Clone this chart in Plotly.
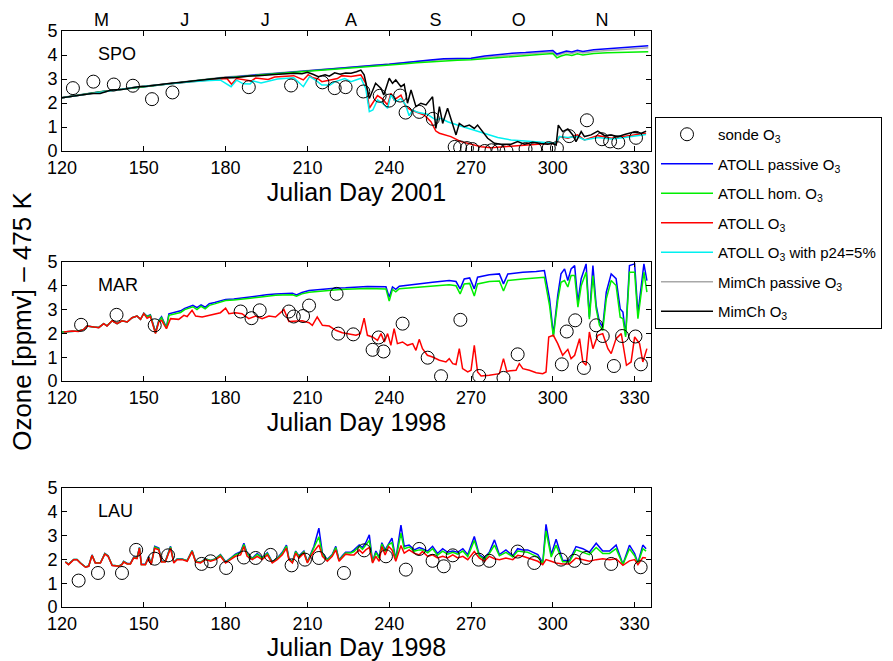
import plotly.graph_objects as go

FONT = "Liberation Sans, Arial, Helvetica, sans-serif"

# ---------------- axis / tick data ----------------
day_ticks = [120, 150, 180, 210, 240, 270, 300, 330]
ozone_ticks = [0, 1, 2, 3, 4, 5]
month_pos = [134.5, 165, 194.5, 226, 257, 287.5, 318]
month_lab = ["M", "J", "J", "A", "S", "O", "N"]
panel_names = ["SPO", "MAR", "LAU"]
panel_years = ["Julian Day 2001", "Julian Day 1998", "Julian Day 1998"]

# ---------------- SPO 2001 ----------------
spo_smooth_days = [120, 125, 130, 135, 140, 145, 150, 155, 160, 165, 170, 175, 180, 185, 190, 195, 200,
                   205, 210, 215, 220, 225, 230, 235, 240, 245, 250, 255, 260, 265, 270, 275, 280, 285,
                   290, 295, 300, 301.5, 303, 305, 307, 309, 311, 315, 320, 325, 330, 335]
spo_passive = [2.22, 2.32, 2.40, 2.48, 2.55, 2.62, 2.68, 2.75, 2.82, 2.88, 2.94, 3.00, 3.06, 3.11, 3.16,
               3.20, 3.25, 3.30, 3.34, 3.38, 3.42, 3.47, 3.52, 3.57, 3.61, 3.68, 3.74, 3.79, 3.84, 3.86,
               3.86, 3.96, 4.02, 4.07, 4.10, 4.14, 4.19, 4.04, 4.10, 4.17, 4.13, 4.20, 4.15, 4.22, 4.26,
               4.30, 4.35, 4.39]
spo_hom = [2.22, 2.32, 2.40, 2.48, 2.55, 2.62, 2.68, 2.75, 2.82, 2.88, 2.94, 3.00, 3.05, 3.10, 3.15,
           3.19, 3.24, 3.28, 3.32, 3.36, 3.40, 3.44, 3.49, 3.53, 3.57, 3.63, 3.68, 3.72, 3.76, 3.78,
           3.80, 3.85, 3.90, 3.95, 3.98, 4.02, 4.06, 3.88, 3.96, 4.02, 3.98, 4.05, 4.00, 4.06, 4.09,
           4.11, 4.13, 4.14]
spo_mim_passive = [2.23, 2.33, 2.41, 2.49, 2.56, 2.63, 2.70, 2.77, 2.84, 2.90, 2.96, 3.02, 3.08, 3.13,
                   3.18, 3.23, 3.27, 3.32, 3.36, 3.40, 3.44, 3.48, 3.53, 3.58, 3.62, 3.68, 3.73, 3.77,
                   3.81, 3.82, 3.84, 3.91, 3.96, 4.00, 4.04, 4.08, 4.12, 3.97, 4.04, 4.10, 4.06, 4.13,
                   4.08, 4.15, 4.19, 4.22, 4.26, 4.30]

spo_mim_days = [120, 123, 127, 131, 134, 138, 142, 145, 148, 151, 154, 157, 160, 163, 166.5, 170, 172.7,
                176, 180, 183, 186, 189, 192, 195, 198, 201, 205, 208, 210, 212, 214, 216.5, 218, 220,
                222, 224, 226, 228, 229.6, 230.8, 232.7, 234, 235, 237, 238, 240, 241.2, 242.4, 244.3,
                245.5, 246.7, 248, 249.8, 251.6, 253.5, 255.9, 257.1, 258.4, 259.6, 261.4, 262.6, 264.5,
                265.7, 267.5, 269.4, 271.2, 272.4, 274.3, 276.1, 278.6, 281, 284.7, 287.1, 289.6, 292.6,
                295.7, 298.1, 300, 301.2, 302, 303.6, 305.5, 307.3, 308.5, 310.4, 311.6, 314, 316.5, 319,
                321.4, 323.8, 326.3, 329.4, 332.5, 334.2]
spo_mim_o3 = [2.22, 2.26, 2.33, 2.40, 2.40, 2.54, 2.56, 2.62, 2.68, 2.70, 2.75, 2.77, 2.82, 2.85, 2.89,
              2.92, 2.96, 3.00, 3.06, 3.05, 3.10, 3.12, 3.14, 3.15, 3.19, 3.21, 3.24, 3.22, 3.28, 3.20,
              3.10, 3.18, 3.12, 3.26, 3.20, 3.25, 3.24, 3.30, 3.37, 3.17, 2.19, 2.54, 2.82, 2.61, 2.33,
              3.03, 2.82, 2.96, 2.68, 2.78, 1.99, 2.54, 1.85, 1.99, 1.92, 2.26, 0.94, 1.85, 1.15, 1.78,
              1.36, 0.67, 1.15, 1.01, 1.08, 0.94, 1.08, 0.81, 0.53, 0.32, 0.28, 0.28, 0.39, 0.28, 0.36,
              0.31, 0.28, 0.32, 0.25, 1.08, 0.81, 0.92, 0.67, 0.39, 0.81, 0.60, 0.67, 0.83, 0.64, 0.67,
              0.60, 0.69, 0.78, 0.74, 0.83]

spo_atoll_days = [120, 127, 134, 140, 148, 154, 160, 166.5, 172.7, 178, 180.5, 182.2, 184, 186, 189.5,
                  191, 195.6, 198, 205, 208.5, 210.3, 212, 214, 215.3, 218.6, 221, 222.6, 225, 226,
                  229.6, 231.4, 232.7, 234, 235.7, 237.5, 239.4, 240.6, 241.8, 244.3, 246, 248, 250.4,
                  252.8, 255.3, 257.1, 258.4, 260.2, 262.6, 266.3, 270, 273.7, 277.3, 281, 287, 294.4,
                  299.4, 301.2, 302.4, 305.5, 309, 311.6, 316.5, 321.4, 326.3, 331, 334.2]
spo_atoll_o3 = [2.22, 2.33, 2.42, 2.54, 2.68, 2.75, 2.82, 2.88, 2.95, 3.00, 3.02, 2.78, 3.02, 2.98, 2.92,
                3.04, 2.98, 3.08, 3.14, 2.96, 3.18, 3.05, 3.00, 2.89, 2.96, 3.02, 3.14, 3.12, 3.10,
                3.17, 2.82, 1.78, 1.99, 2.31, 2.17, 1.92, 2.40, 2.13, 2.33, 1.85, 1.71, 1.61, 1.50,
                1.22, 0.83, 0.74, 0.69, 0.60, 0.39, 0.28, 0.18, 0.14, 0.18, 0.22, 0.28, 0.32, 0.28,
                0.60, 0.53, 0.67, 0.46, 0.64, 0.53, 0.60, 0.67, 0.74]

spo_p24_days = [120, 127, 134, 140, 148, 154, 160, 166.5, 172.7, 178, 182, 184, 186.5, 189, 190, 193,
                199, 205, 208.5, 210.8, 213, 215.3, 218.3, 220, 223.7, 226, 229.6, 231.4, 232.7, 234,
                235.7, 237.5, 239.4, 240.6, 242.4, 244.3, 246, 247.3, 248.6, 250.4, 254, 257.1, 259,
                261.4, 265, 268.8, 272.4, 276, 279.8, 284.7, 289.6, 294.5, 299.4, 301.2, 302.4, 305.5,
                309, 311.6, 316.5, 321.4, 326.3, 331, 334.2]
spo_p24_o3 = [2.22, 2.33, 2.42, 2.54, 2.68, 2.75, 2.82, 2.87, 2.93, 2.96, 2.68, 2.95, 2.80, 2.79, 2.92,
              2.83, 3.00, 3.05, 2.68, 3.10, 2.95, 2.75, 2.75, 2.88, 3.02, 2.89, 3.03, 2.61, 1.64, 1.71,
              2.13, 1.99, 1.78, 2.33, 2.06, 2.19, 1.92, 1.47, 1.71, 1.61, 1.53, 1.29, 1.36, 1.22, 1.08,
              0.94, 0.83, 0.67, 0.56, 0.46, 0.42, 0.39, 0.36, 0.32, 0.60, 0.56, 0.60, 0.46, 0.56, 0.50,
              0.56, 0.64, 0.69]

spo_sonde_days = [124, 131.5, 139, 146, 153, 160.5, 188.5, 204, 215.5, 220, 224, 230.5, 236.5, 240, 244,
                  246, 251, 256, 264, 266, 268.5, 270.5, 275, 277.5, 280, 283, 290, 293.5, 298.5, 301.5,
                  306, 312.5, 318, 321, 324, 330.5]
spo_sonde = [2.62, 2.89, 2.77, 2.72, 2.16, 2.44, 2.66, 2.73, 2.86, 2.62, 2.66, 2.48, 2.30, 2.10, 2.31,
             1.60, 1.63, 1.34, 0.17, 0.15, 0.12, 0.08, 0.00, 0.03, 0.02, 0.00, 0.08, 0.08, 0.12, 0.12,
             0.62, 1.28, 0.49, 0.40, 0.36, 0.55]

# ---------------- MAR 1998 ----------------
mar_model_days = [120, 123.7, 126, 128, 129.2, 131.6, 133.5, 135.3, 136.5, 138.4, 140.2, 142, 143.9, 145.7,
                  147.5, 148.8, 150, 151.2, 152.4, 154.3, 155.5, 156.5, 158.3, 159.2, 161.6, 163.5, 165,
                  166.5, 168, 169.5, 171, 172.5, 174, 176, 178, 180, 183, 186, 189, 192.2, 195, 198.3,
                  201, 204.5, 206, 208, 210.6, 214, 218, 221, 224, 227, 232, 238.8, 240, 241.2, 242.4,
                  243.7, 249.8, 255.9, 262, 264.5, 266, 267.5, 269.5, 271.2, 272.4, 276.7, 280.4, 281.9,
                  283.5, 289, 293.9, 296.9, 298.8, 300.2, 301.8, 303, 304.3, 305.5, 306.7, 308, 309.2,
                  310.4, 312.2, 313.4, 314.7, 315.9, 317.1, 318.3, 319.6, 321.4, 323.2, 324.7, 325.7,
                  326.7, 328.1, 330, 331.2, 332.4, 333.4, 334.5]
mar_passive = [2.06, 2.10, 2.10, 2.17, 2.31, 2.27, 2.25, 2.41, 2.32, 2.53, 2.41, 2.53, 2.48, 2.66, 2.73,
               2.59, 2.85, 2.72, 2.78, 2.05, 2.55, 2.70, 2.25, 2.82, 2.90, 2.95, 3.05, 3.12, 3.18, 3.08,
               3.20, 3.10, 3.25, 3.30, 3.35, 3.43, 3.45, 3.50, 3.53, 3.58, 3.62, 3.66, 3.67, 3.69, 3.62,
               3.72, 3.80, 3.84, 3.87, 3.91, 3.92, 3.94, 3.97, 3.96, 3.52, 3.95, 3.85, 3.98, 4.08, 4.15,
               4.22, 4.18, 3.87, 4.29, 4.33, 3.87, 4.36, 4.46, 4.50, 4.08, 4.50, 4.57, 4.60, 4.64, 3.45,
               1.95, 3.60, 4.50, 4.71, 4.22, 4.71, 4.85, 3.30, 4.30, 4.92, 2.68, 4.85, 3.17, 2.48, 2.27,
               3.73, 4.50, 4.30, 3.03, 2.90, 1.92, 4.85, 4.92, 2.83, 3.87, 4.92, 4.22]
mar_hom = [2.06, 2.10, 2.10, 2.17, 2.31, 2.27, 2.25, 2.41, 2.32, 2.53, 2.41, 2.53, 2.48, 2.66, 2.73,
           2.59, 2.84, 2.70, 2.76, 2.02, 2.52, 2.66, 2.22, 2.76, 2.84, 2.88, 3.00, 3.06, 3.12, 3.00,
           3.14, 3.03, 3.18, 3.24, 3.30, 3.38, 3.40, 3.45, 3.48, 3.52, 3.56, 3.60, 3.61, 3.62, 3.56,
           3.66, 3.73, 3.77, 3.80, 3.83, 3.85, 3.86, 3.89, 3.87, 3.36, 3.85, 3.75, 3.88, 3.94, 3.98,
           4.04, 4.00, 3.66, 4.08, 4.10, 3.57, 4.08, 4.18, 4.20, 3.78, 4.22, 4.29, 4.33, 4.36, 3.17,
           1.85, 3.38, 4.15, 4.22, 3.95, 4.43, 4.43, 3.10, 4.00, 4.57, 2.60, 4.43, 3.03, 2.34, 2.13,
           3.45, 4.22, 4.01, 2.68, 2.62, 1.85, 4.57, 4.57, 2.62, 3.59, 4.57, 3.73]

mar_o3_days = [120.6, 123.7, 126, 128, 129.2, 131.6, 133.5, 135.3, 136.5, 138.4, 140.2, 142, 143.9, 145.7,
               147.5, 148.8, 150, 151.2, 152.4, 154.3, 155.5, 156.5, 158.3, 159.8, 161.6, 162.8, 164.7,
               165.9, 167.7, 169, 171.4, 173.9, 175.7, 178.1, 180, 181.2, 183.6, 186, 188.5, 191, 193.4,
               195.9, 198.3, 201.4, 203.2, 205.7, 208.1, 210.6, 211.8, 213.6, 215.5, 218, 220.4, 222.8,
               225.3, 227.8, 229.4, 230.8, 232, 233.9, 235.7, 237, 238.2, 239.4, 240.6, 241.8, 243,
               244.9, 246.7, 248.6, 249.8, 251, 252.2, 254, 255.9, 258.4, 260.8, 262, 263.3, 264.5,
               265.7, 266.9, 268.8, 270, 271.2, 272.4, 273.7, 276.7, 280.4, 281.9, 283.1, 286.5, 287.7,
               289, 291.4, 293.9, 296.3, 297.5, 298.5, 300.2, 301.8, 303.6, 305.5, 306.7, 308, 309.8,
               311, 312.2, 313.4, 314.7, 316.5, 318.3, 320.2, 321.4, 323.2, 325.1, 327, 328.7, 330,
               331.8, 333, 334.5]
mar_o3 = [2.06, 2.10, 2.08, 2.17, 2.31, 2.27, 2.24, 2.41, 2.31, 2.53, 2.41, 2.53, 2.48, 2.66, 2.73, 2.59,
          2.83, 2.64, 2.71, 1.99, 2.48, 2.55, 2.20, 2.62, 2.62, 2.59, 2.76, 2.71, 2.97, 2.73, 2.69, 2.76,
          2.79, 2.87, 3.06, 2.83, 2.87, 2.83, 2.62, 2.73, 2.62, 2.73, 2.69, 3.00, 2.50, 2.50, 2.53, 2.45,
          2.34, 2.69, 2.34, 2.31, 2.13, 2.03, 1.99, 1.92, 1.99, 2.64, 1.92, 1.85, 1.71, 1.99, 1.64, 1.99,
          1.50, 2.20, 1.57, 1.64, 1.50, 1.57, 1.29, 1.75, 1.36, 1.08, 1.01, 0.87, 0.80, 0.94, 0.73, 0.69,
          1.36, 0.52, 0.38, 0.45, 1.50, 0.38, 0.21, 0.24, 0.31, 0.94, 0.41, 0.45, 0.73, 0.52, 0.45, 0.35,
          0.31, 0.38, 1.85, 1.92, 1.57, 1.08, 1.33, 0.94, 1.08, 1.78, 0.80, 0.66, 2.06, 1.36, 1.92, 1.99,
          1.36, 1.15, 1.78, 1.99, 0.66, 0.80, 1.85, 1.57, 0.80, 1.36]

mar_sonde_days = [127, 140, 154, 185.5, 189.5, 192.5, 203.2, 205, 208.4, 210.6, 220.7, 221.3, 226.8,
                  233.9, 236.1, 237.9, 244.9, 254.1, 259, 266.1, 273, 281.9, 287.1, 303.3, 305.1, 308.2,
                  311.4, 315.9, 318.3, 322.4, 325.4, 330.3, 332.3]
mar_sonde = [2.36, 2.78, 2.34, 2.92, 2.64, 2.97, 2.92, 2.71, 2.73, 3.17, 3.66, 1.99, 1.96, 1.31, 1.83,
             1.24, 2.41, 0.98, 0.20, 2.57, 0.21, 0.13, 1.12, 0.70, 2.08, 2.55, 0.55, 2.34, 1.89, 0.63,
             1.89, 1.87, 0.70]

# ---------------- LAU 1998 ----------------
lau_days = [121.2, 122.4, 124.3, 125.5, 126.7, 128.6, 129.8, 131, 132.2, 134.1, 135.7, 136.9, 138.4,
            140.8, 142, 142.6, 143.9, 145.1, 146.3, 147.5, 148.4, 149.1, 150.6, 151.8, 152.7, 154,
            155.5, 156.5, 157.9, 159.8, 161, 162.2, 164.1, 165.9, 167.7, 169, 170.8, 172.6, 174.5,
            176.3, 178.1, 180, 181.8, 183.6, 185.5, 186.7, 187.9, 189.8, 191.6, 193.4, 195.3, 197.1,
            198.9, 200.8, 202.3, 203.2, 204.5, 205.7, 206.9, 208.7, 210, 211.2, 212.4, 214.2, 215.5,
            217.3, 219.1, 220.4, 221.6, 222.8, 224, 225.9, 227.1, 229, 230.2, 231.4, 232.7, 233.9,
            235.1, 236.3, 237.3, 238.5, 239.8, 241, 242.4, 244.3, 245.5, 247.3, 249.2, 251, 252.2,
            254.1, 255.9, 257.7, 259.6, 261.4, 263.3, 265.1, 267, 268.8, 271.2, 273, 274.9, 276.7,
            278.6, 280.4, 282.8, 285.3, 287.1, 289, 290.8, 292.6, 294.5, 296.3, 297.5, 299.4, 301.2,
            303.6, 306.1, 308.5, 311, 313.4, 315.9, 318.3, 320.8, 323.2, 325.7, 328.1, 330, 331.2,
            333, 334.2]
lau_o3 = [1.89, 1.78, 1.99, 1.99, 1.85, 1.67, 1.71, 2.17, 1.85, 1.85,
          2.22, 2.13, 1.74, 1.71, 1.78, 1.89, 1.81, 1.81, 2.06, 2.03,
          2.47, 1.78, 1.78, 2.08, 1.78, 2.47, 2.40, 1.89, 1.89, 2.47,
          1.85, 1.99, 1.99, 1.92, 2.33, 1.89, 1.85, 1.99, 1.92, 1.99,
          2.13, 1.85, 1.99, 2.13, 2.19, 2.54, 2.13, 1.99, 2.13, 1.99,
          2.19, 1.85, 1.99, 2.19, 2.47, 1.99, 1.85, 2.26, 2.06, 2.26,
          1.85, 2.13, 2.33, 2.61, 2.13, 1.92, 2.13, 2.40, 1.92, 2.06,
          2.22, 2.19, 2.19, 2.40, 2.26, 2.40, 2.50, 1.85, 2.13, 1.92,
          2.54, 2.19, 2.54, 2.40, 1.92, 2.58, 2.26, 2.40, 2.26, 2.19,
          2.33, 2.13, 2.19, 2.06, 2.13, 2.06, 2.19, 2.06, 2.13, 1.99,
          2.33, 2.06, 1.92, 2.13, 2.03, 1.99, 2.06, 1.99, 2.17, 2.13,
          2.06, 1.99, 1.92, 1.78, 1.99, 1.92, 1.85, 1.81, 1.81, 2.06,
          1.99, 1.92, 1.99, 2.03, 1.99, 2.03, 1.75, 1.94, 1.99, 1.78,
          2.08, 2.06]
lau_passive = [1.90, 1.80, 2.00, 2.00, 1.86, 1.68, 1.72, 2.19, 1.86, 1.86,
               2.25, 2.15, 1.75, 1.72, 1.80, 1.92, 1.83, 1.83, 2.10, 2.06,
               2.50, 1.80, 1.80, 2.12, 1.80, 2.55, 2.48, 1.92, 1.92, 2.55,
               1.88, 2.02, 2.02, 1.95, 2.37, 1.92, 1.88, 2.02, 1.96, 2.03,
               2.20, 1.90, 2.05, 2.22, 2.32, 2.68, 2.25, 2.05, 2.25, 2.08,
               2.28, 1.90, 2.05, 2.30, 2.60, 2.05, 1.90, 2.35, 2.15, 2.35,
               1.90, 2.22, 2.55, 3.31, 2.25, 2.00, 2.20, 2.55, 1.98, 2.15,
               2.30, 2.30, 2.40, 2.61, 2.50, 2.70, 3.03, 1.90, 2.35, 2.10,
               2.70, 2.40, 2.65, 2.89, 2.00, 3.44, 2.55, 2.60, 2.40, 2.50,
               2.45, 2.35, 2.55, 2.25, 2.45, 2.30, 2.35, 2.30, 2.45, 2.20,
               2.96, 2.20, 2.05, 2.30, 2.82, 2.20, 2.40, 2.15, 2.45, 2.40,
               2.40, 2.30, 2.20, 1.85, 3.47, 2.20, 2.85, 1.95, 1.95, 2.54,
               2.45, 2.30, 2.68, 2.35, 2.35, 2.60, 1.80, 2.60, 2.25, 1.85,
               2.60, 2.45]
lau_hom = [1.90, 1.79, 2.00, 2.00, 1.86, 1.68, 1.72, 2.18, 1.86, 1.86,
           2.24, 2.14, 1.75, 1.72, 1.79, 1.91, 1.82, 1.82, 2.08, 2.05,
           2.49, 1.79, 1.79, 2.10, 1.79, 2.52, 2.45, 1.91, 1.91, 2.52,
           1.87, 2.01, 2.01, 1.94, 2.36, 1.91, 1.87, 2.01, 1.95, 2.02,
           2.18, 1.88, 2.03, 2.19, 2.28, 2.63, 2.21, 2.03, 2.21, 2.05,
           2.25, 1.88, 2.03, 2.26, 2.56, 2.03, 1.88, 2.32, 2.12, 2.32,
           1.88, 2.19, 2.49, 2.95, 2.21, 1.97, 2.18, 2.50, 1.96, 2.12,
           2.27, 2.27, 2.33, 2.55, 2.42, 2.60, 2.80, 1.88, 2.28, 2.05,
           2.65, 2.33, 2.62, 2.70, 1.98, 3.10, 2.45, 2.52, 2.35, 2.40,
           2.40, 2.28, 2.45, 2.18, 2.35, 2.22, 2.30, 2.22, 2.35, 2.12,
           2.80, 2.15, 2.00, 2.25, 2.60, 2.15, 2.30, 2.10, 2.35, 2.32,
           2.30, 2.20, 2.10, 1.82, 3.20, 2.10, 2.60, 1.90, 1.90, 2.40,
           2.30, 2.20, 2.50, 2.25, 2.25, 2.45, 1.78, 2.45, 2.15, 1.82,
           2.45, 2.35]
lau_sonde_days = [126.1, 133.2, 142, 147.2, 154, 158.9, 171.2, 174.5, 180.2, 186.7, 191, 196.5, 204.2,
                  209.1, 214.2, 223.4, 230.8, 238.8, 246.1, 251, 255.9, 260, 263.3, 272.8, 276.7, 287.1,
                  293.2, 303, 307.9, 312.2, 321.4, 332.2]
lau_sonde = [1.11, 1.43, 1.43, 2.40, 2.03, 2.17, 1.81, 1.92, 1.64, 2.08, 2.06, 2.19, 1.75, 1.99, 2.06,
             1.43, 2.38, 2.13, 1.57, 2.44, 1.94, 1.71, 2.17, 1.99, 1.94, 2.33, 1.85, 1.99, 1.94, 2.06,
             1.81, 1.67]

# ---------------- series styling ----------------
C_PASSIVE = "#0000ff"
C_HOM = "#00ee00"
C_O3 = "#ff0000"
C_P24 = "#00f0f0"
C_MIMP = "#a8a8a8"
C_MIM = "#000000"

NAMES = {
    "sonde": "sonde O<sub>3</sub>",
    "passive": "ATOLL passive O<sub>3</sub>",
    "hom": "ATOLL hom. O<sub>3</sub>",
    "o3": "ATOLL O<sub>3</sub>",
    "p24": "ATOLL O<sub>3</sub> with p24=5%",
    "mimp": "MimCh passive O<sub>3</sub>",
    "mim": "MimCh O<sub>3</sub>",
}
RANK = {"sonde": 1, "passive": 2, "hom": 3, "o3": 4, "p24": 5, "mimp": 6, "mim": 7}

fig = go.Figure()


def add_line(x, y, key, color, xa, ya, show):
    fig.add_trace(go.Scatter(
        x=x, y=y, mode="lines", line=dict(color=color, width=1.5),
        name=NAMES[key], legendgroup=key, legendrank=RANK[key], showlegend=show,
        xaxis=xa, yaxis=ya, hoverinfo="skip"))


def add_sonde(x, y, xa, ya, show):
    fig.add_trace(go.Scatter(
        x=x, y=y, mode="markers",
        marker=dict(symbol="circle-open", size=13, color="black", line=dict(width=1, color="black")),
        name=NAMES["sonde"], legendgroup="sonde", legendrank=RANK["sonde"], showlegend=show,
        xaxis=xa, yaxis=ya, hoverinfo="skip"))


# SPO panel
add_line(spo_smooth_days, spo_mim_passive, "mimp", C_MIMP, "x", "y", True)
add_line(spo_smooth_days, spo_passive, "passive", C_PASSIVE, "x", "y", True)
add_line(spo_smooth_days, spo_hom, "hom", C_HOM, "x", "y", True)
add_line(spo_atoll_days, spo_atoll_o3, "o3", C_O3, "x", "y", True)
add_line(spo_p24_days, spo_p24_o3, "p24", C_P24, "x", "y", True)
add_line(spo_mim_days, spo_mim_o3, "mim", C_MIM, "x", "y", True)
add_sonde(spo_sonde_days, spo_sonde, "x", "y", True)

# empty trace so that the month axis on top of the SPO panel is drawn
fig.add_trace(go.Scatter(x=[None], y=[None], xaxis="x4", yaxis="y", mode="lines",
                         showlegend=False, hoverinfo="skip"))

# MAR panel
add_line(mar_model_days, mar_passive, "passive", C_PASSIVE, "x2", "y2", False)
add_line(mar_model_days, mar_hom, "hom", C_HOM, "x2", "y2", False)
add_line(mar_o3_days, mar_o3, "o3", C_O3, "x2", "y2", False)
add_sonde(mar_sonde_days, mar_sonde, "x2", "y2", False)

# LAU panel
add_line(lau_days, lau_passive, "passive", C_PASSIVE, "x3", "y3", False)
add_line(lau_days, lau_hom, "hom", C_HOM, "x3", "y3", False)
add_line(lau_days, lau_o3, "o3", C_O3, "x3", "y3", False)
add_sonde(lau_sonde_days, lau_sonde, "x3", "y3", False)

W, H = 893, 661
xdom = [62 / W, 651 / W]
ydoms = [[1 - 151 / H, 1 - 31 / H], [1 - 381 / H, 1 - 262 / H], [1 - 607 / H, 1 - 488 / H]]

common = dict(showline=True, linecolor="black", linewidth=1, mirror="ticks", ticks="inside",
              ticklen=5, tickcolor="black", showgrid=False, zeroline=False,
              tickfont=dict(size=18, color="black", family=FONT))

layout = dict(
    width=W, height=H, paper_bgcolor="white", plot_bgcolor="white",
    margin=dict(l=0, r=0, t=0, b=0, autoexpand=False),
    font=dict(family=FONT, color="black"),
    showlegend=True,
    legend=dict(x=655 / W, y=1 - 117 / H, xanchor="left", yanchor="top",
                bgcolor="white", bordercolor="black", borderwidth=1,
                font=dict(size=15, family=FONT, color="black"),
                itemwidth=52, tracegroupgap=7, traceorder="grouped"),
)

for i in range(3):
    sx = "" if i == 0 else str(i + 1)
    layout["xaxis" + sx] = dict(common, domain=xdom, anchor="y" + sx, range=[120, 336],
                                tickvals=day_ticks,
                                title=dict(text=panel_years[i], font=dict(size=25, family=FONT),
                                           standoff=3))
    ya = dict(common, domain=ydoms[i], anchor="x" + sx, range=[0, 5], tickvals=ozone_ticks)
    if i == 1:
        ya["title"] = dict(text="Ozone [ppmv] – 475 K", font=dict(size=26, family=FONT), standoff=8)
    layout["yaxis" + sx] = ya

layout["xaxis4"] = dict(overlaying="x", side="top", anchor="y", range=[120, 336],
                        tickvals=month_pos, ticktext=month_lab, ticks="", showline=False,
                        showgrid=False, zeroline=False,
                        tickfont=dict(size=18, color="black", family=FONT))

annotations = []
for i, nm in enumerate(panel_names):
    sx = "" if i == 0 else str(i + 1)
    annotations.append(dict(text=nm, xref=("x" + sx) + " domain", yref=("y" + sx) + " domain",
                            x=34 / 589, y=1 - 23 / 119, xanchor="left", yanchor="middle",
                            showarrow=False, font=dict(size=18, family=FONT, color="black")))
layout["annotations"] = annotations

fig.update_layout(**layout)
fig.write_html("out.html", config={"displayModeBar": False},
               post_script="document.body.style.margin='0px';document.body.style.overflow='hidden';")
